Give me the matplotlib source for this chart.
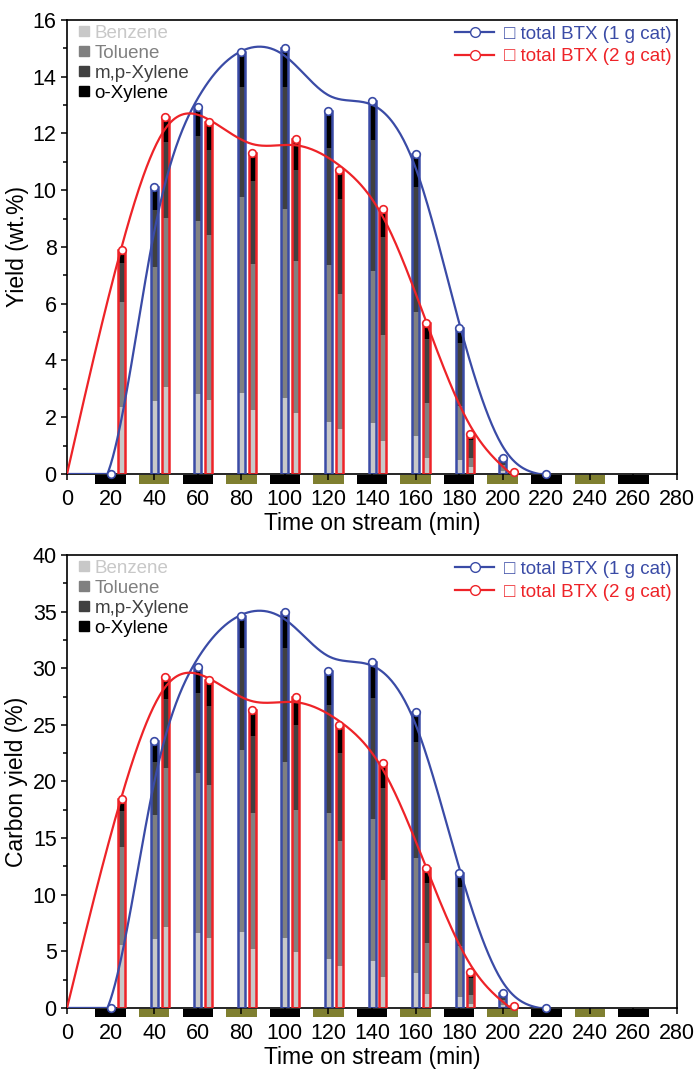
import numpy as np
import matplotlib
matplotlib.use("Agg")
import matplotlib.pyplot as plt
from matplotlib.lines import Line2D
from matplotlib.patches import Rectangle
import matplotlib.transforms as mtransforms

plt.rcParams['font.family'] = ['Liberation Sans', 'DejaVu Sans']

# ---- data ----
t_1g = [20, 40, 60, 80, 100, 120, 140, 160, 180, 200, 220]
t_2g = [25, 45, 65, 85, 105, 125, 145, 165, 185, 205]

# yield (wt.%)
y_1g_benzene = [0, 2.57, 2.81, 2.87, 2.67, 1.84, 1.81, 1.34, 0.49, 0.10, 0]
y_1g_toluene = [0, 4.74, 6.12, 6.88, 6.66, 5.53, 5.34, 4.36, 1.91, 0.20, 0]
y_1g_mpx = [0, 1.99, 2.98, 3.88, 4.30, 4.13, 4.62, 4.43, 2.20, 0.17, 0]
y_1g_ox = [0, 0.80, 1.01, 1.23, 1.39, 1.30, 1.39, 1.15, 0.53, 0.08, 0]

y_2g_benzene = [2.37, 3.05, 2.61, 2.26, 2.14, 1.59, 1.17, 0.55, 0.24, 0.02]
y_2g_toluene = [3.70, 5.96, 5.81, 5.13, 5.37, 4.74, 3.73, 1.94, 0.31, 0.03]
y_2g_mpx = [1.37, 2.70, 3.00, 2.94, 3.22, 3.35, 3.46, 2.27, 0.65, 0.02]
y_2g_ox = [0.45, 0.86, 1.00, 0.97, 1.06, 1.05, 0.97, 0.57, 0.21, 0.01]

# carbon yield (%)
c_1g_benzene = [0, 6.06, 6.59, 6.74, 6.21, 4.30, 4.18, 3.06, 1.00, 0.25, 0]
c_1g_toluene = [0, 10.98, 14.19, 16.04, 15.54, 12.89, 12.48, 10.16, 4.47, 0.45, 0]
c_1g_mpx = [0, 4.71, 7.01, 8.98, 10.01, 9.56, 10.69, 10.29, 5.24, 0.40, 0]
c_1g_ox = [0, 1.83, 2.35, 2.85, 3.23, 3.04, 3.23, 2.65, 1.24, 0.20, 0]

c_2g_benzene = [5.56, 7.18, 6.15, 5.18, 4.97, 3.71, 2.71, 1.24, 0.35, 0.04]
c_2g_toluene = [8.63, 13.98, 13.54, 12.07, 12.51, 11.04, 8.59, 4.53, 0.80, 0.05]
c_2g_mpx = [3.24, 6.10, 7.01, 6.77, 7.51, 7.79, 8.10, 5.24, 1.53, 0.04]
c_2g_ox = [1.00, 2.00, 2.26, 2.29, 2.50, 2.45, 2.26, 1.32, 0.47, 0.02]

components = ["Benzene", "Toluene", "m,p-Xylene", "o-Xylene"]
comp_colors = ["#c8c8c8", "#808080", "#404040", "#000000"]
BLUE = "#3a4ba6"
RED = "#ee2328"
OLIVE = "#7f7f30"


def smooth_curve(t, y, p=450.0, h=0.5):
    # discrete smoothing spline through (0,0) and the data points
    t = np.concatenate([[0], t])
    y = np.concatenate([[0], y])
    grid = np.arange(0, t[-1] + h / 2, h)
    n = len(grid)
    w = np.zeros(n)
    yy = np.zeros(n)
    idx = np.round(t / h).astype(int)
    w[idx] = np.where(y == 0, 6.0, 1.0)
    yy[idx] = y
    D = np.diff(np.eye(n), 2, axis=0)
    z = np.linalg.solve(np.diag(w) + p / h ** 3 * D.T @ D, w * yy)
    return grid, np.maximum(z, 0)


def draw_series(ax, t, parts, color):
    t = np.array(t, dtype=float)
    parts = [np.array(p) for p in parts]
    total = np.sum(parts, axis=0)
    m = total > 0
    bottom = np.zeros(len(t))
    for p, c in zip(parts, comp_colors):
        ax.bar(t[m], p[m], width=3.2, bottom=bottom[m], color=c, linewidth=0, zorder=2)
        bottom += p
    ax.bar(t[m], total[m], width=3.2, fill=False, edgecolor=color, linewidth=1.8, zorder=3)
    gx, gy = smooth_curve(t, total)
    ax.plot(gx, gy, color=color, lw=1.6, zorder=4)
    ax.plot(t, total, 'o', ms=5.5, mfc='white', mec=color, mew=1.2, zorder=5, clip_on=False)


def setup(ax, ymax, ystep, ylabel):
    ax.set_xlim(0, 280)
    ax.set_ylim(0, ymax)
    ax.set_xticks(np.arange(0, 281, 20))
    ax.set_yticks(np.arange(0, ymax + 0.1, ystep))
    ax.set_yticks(np.arange(0, ymax + 0.1, ystep / 2), minor=True)
    ax.tick_params(axis='both', which='major', direction='out', length=4, width=1.1,
                   labelsize=15.5, top=False, right=False)
    ax.tick_params(axis='x', pad=7)
    ax.tick_params(axis='y', which='minor', direction='out', length=3, width=1.1)
    for s in ax.spines.values():
        s.set_linewidth(1.2)
    ax.set_xlabel("Time on stream (min)", fontsize=16.5, labelpad=1)
    ax.set_ylabel(ylabel, fontsize=16.5, labelpad=3)
    trans = mtransforms.blended_transform_factory(ax.transData, ax.transAxes)
    for i, tc in enumerate(range(20, 261, 20)):
        ax.add_patch(Rectangle((tc - 7, -0.021), 14, 0.019, transform=trans, clip_on=False,
                               facecolor='black' if i % 2 == 0 else OLIVE, edgecolor='none'))
    h1 = [Line2D([], [], marker='s', ms=7, ls='None', color=c) for c in comp_colors]
    leg1 = ax.legend(h1, components, loc='upper left', bbox_to_anchor=(0.011, 1.0),
                     frameon=False, fontsize=13.5,
                     handlelength=0.6, handletextpad=0.25, labelspacing=0.15,
                     borderaxespad=0.0, borderpad=0.25, labelcolor=comp_colors)
    ax.add_artist(leg1)
    h2 = [Line2D([], [], color=BLUE, lw=1.6, marker='o', ms=7, mfc='white', mec=BLUE),
          Line2D([], [], color=RED, lw=1.6, marker='o', ms=7, mfc='white', mec=RED)]
    ax.legend(h2, ["\u25a1 total BTX (1 g cat)", "\u25a1 total BTX (2 g cat)"],
              loc='upper right', frameon=False, fontsize=13.5, handlelength=2.1,
              handletextpad=0.5, labelspacing=0.3, borderaxespad=0.0, borderpad=0.3,
              labelcolor=[BLUE, RED])


fig = plt.figure(figsize=(6.99, 10.69), dpi=100)
ax1 = fig.add_axes([0.096, 0.5566, 0.8725, 0.4247])
ax2 = fig.add_axes([0.096, 0.0571, 0.8725, 0.4237])

draw_series(ax1, t_1g, [y_1g_benzene, y_1g_toluene, y_1g_mpx, y_1g_ox], BLUE)
draw_series(ax1, t_2g, [y_2g_benzene, y_2g_toluene, y_2g_mpx, y_2g_ox], RED)
setup(ax1, 16, 2, "Yield (wt.%)")

draw_series(ax2, t_1g, [c_1g_benzene, c_1g_toluene, c_1g_mpx, c_1g_ox], BLUE)
draw_series(ax2, t_2g, [c_2g_benzene, c_2g_toluene, c_2g_mpx, c_2g_ox], RED)
setup(ax2, 40, 5, "Carbon yield (%)")

fig.savefig("out.png", dpi=100)
